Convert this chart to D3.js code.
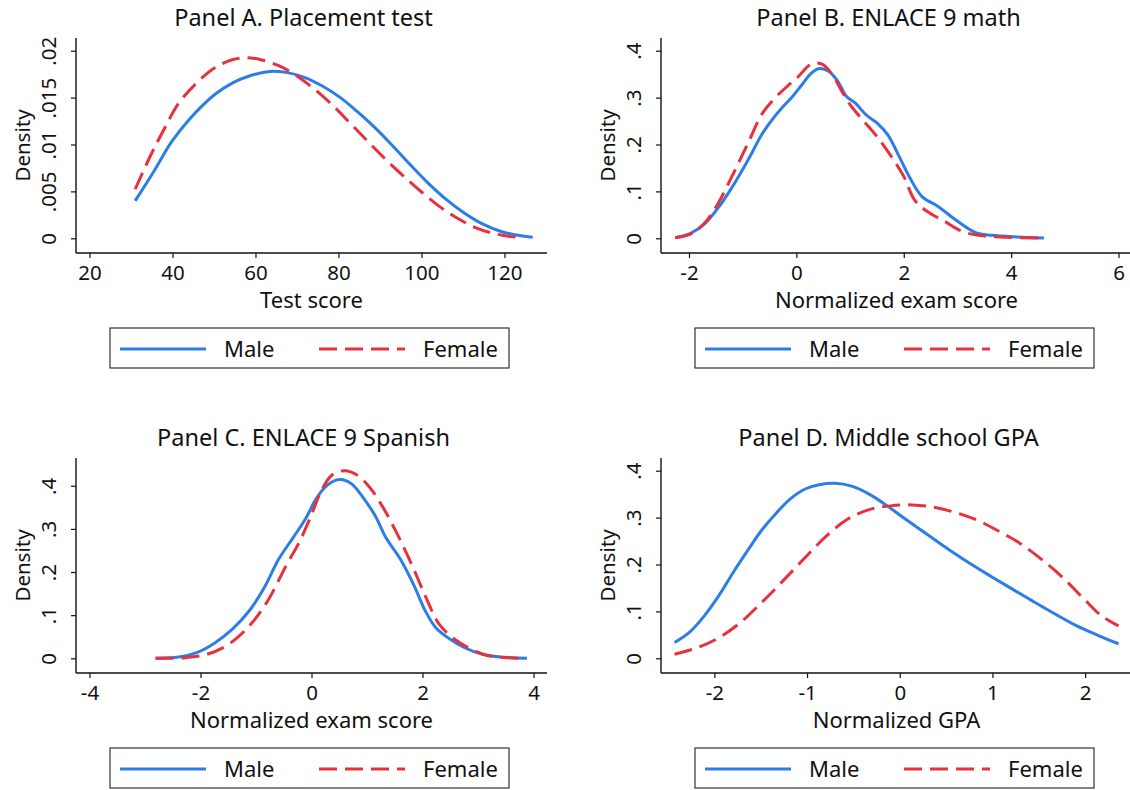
<!DOCTYPE html>
<html>
<head>
<meta charset="utf-8">
<script src="https://cdn.jsdelivr.net/npm/d3@7"></script>
<style>
  html, body { margin: 0; padding: 0; background: #fff; }
  text { font-family: "Noto Sans", "DejaVu Sans", sans-serif; fill: #111; }
</style>
</head>
<body>
<div id="chart"></div>
<script>
// Panel A: placement test score densities
const aScore = [31, 35.5, 39.8, 44.1, 50.1, 54.4, 58.7, 63.5, 67.3, 71.6, 76, 80.3, 84.5, 88.9, 93.2, 97.5, 101.8, 106.1, 110.4, 114.7, 119, 123.3, 126.8];
const aMale = [0.00399, 0.00712, 0.0103, 0.0127, 0.0153, 0.01655, 0.01733, 0.01779, 0.01769, 0.01719, 0.01626, 0.01505, 0.01352, 0.01174, 0.00979, 0.00776, 0.0058, 0.00409, 0.00267, 0.00153, 0.00075, 0.00032, 0.0001];
const aScoreF = [31, 34.6, 38.1, 41.5, 45.8, 50.1, 54.4, 57.9, 61.3, 65.6, 69.9, 74.2, 78.5, 82.8, 87.1, 91.5, 95.8, 100.1, 104.4, 108.7, 113, 117.3, 121.6, 124.6];
const aFemale = [0.00523, 0.00872, 0.01174, 0.01441, 0.01655, 0.01815, 0.01904, 0.01925, 0.01904, 0.0184, 0.01733, 0.01591, 0.01423, 0.01228, 0.01032, 0.00836, 0.00658, 0.00491, 0.00338, 0.00214, 0.00114, 0.00053, 0.00018, 0.00007];

// Panel B: ENLACE 9 math
const bScore = [-2.25, -1.97, -1.7, -1.44, -1.17, -0.9, -0.63, -0.43, -0.23, -0.067, 0.1, 0.27, 0.43, 0.6, 0.77, 0.93, 1.1, 1.3, 1.5, 1.7, 1.9, 2.1, 2.34, 2.64, 2.97, 3.34, 3.64, 4.11, 4.61];
const bMale = [0.0014, 0.0107, 0.032, 0.0676, 0.114, 0.167, 0.224, 0.256, 0.283, 0.303, 0.327, 0.351, 0.362, 0.356, 0.335, 0.303, 0.288, 0.263, 0.246, 0.221, 0.178, 0.132, 0.089, 0.068, 0.039, 0.012, 0.0064, 0.0028, 0.0007];
const bScoreF = [-2.26, -1.97, -1.7, -1.44, -1.17, -0.9, -0.63, -0.4, -0.17, 0.03, 0.23, 0.37, 0.5, 0.67, 0.83, 1, 1.23, 1.5, 1.77, 2, 2.2, 2.44, 2.77, 3.1, 3.44, 3.91, 4.51];
const bFemale = [0.0014, 0.0093, 0.0335, 0.078, 0.139, 0.203, 0.267, 0.299, 0.324, 0.344, 0.368, 0.374, 0.37, 0.349, 0.317, 0.285, 0.253, 0.217, 0.174, 0.132, 0.082, 0.057, 0.0356, 0.0142, 0.0057, 0.0021, 0.0007];

// Panel C: ENLACE 9 Spanish
const cScore = [-2.81, -2.39, -2.07, -1.75, -1.43, -1.11, -0.85, -0.59, -0.33, -0.11, 0.08, 0.24, 0.44, 0.57, 0.73, 0.95, 1.15, 1.34, 1.6, 1.85, 2.05, 2.24, 2.5, 2.75, 3.08, 3.4, 3.88];
const cMale = [0, 0.003, 0.013, 0.035, 0.067, 0.112, 0.164, 0.23, 0.28, 0.323, 0.369, 0.396, 0.413, 0.414, 0.404, 0.369, 0.33, 0.28, 0.23, 0.168, 0.11, 0.071, 0.044, 0.025, 0.0093, 0.003, 0];
const cScoreF = [-2.81, -2.27, -1.88, -1.49, -1.11, -0.79, -0.46, -0.21, -0.01, 0.18, 0.37, 0.6, 0.82, 1.05, 1.27, 1.53, 1.79, 2.05, 2.3, 2.56, 2.82, 3.14, 3.53, 3.88];
const cFemale = [0, 0.0015, 0.0093, 0.0325, 0.0766, 0.133, 0.214, 0.272, 0.33, 0.389, 0.425, 0.435, 0.425, 0.396, 0.354, 0.292, 0.222, 0.145, 0.079, 0.046, 0.025, 0.0077, 0.0015, 0];

// Panel D: middle school GPA
const dScore = [-2.43, -2.26, -2.11, -1.95, -1.8, -1.64, -1.49, -1.33, -1.18, -1.02, -0.87, -0.7, -0.52, -0.33, -0.135, 0.06, 0.29, 0.52, 0.75, 0.99, 1.22, 1.45, 1.68, 1.91, 2.15, 2.36];
const dMale = [0.0335, 0.057, 0.09, 0.134, 0.182, 0.23, 0.273, 0.31, 0.34, 0.361, 0.37, 0.373, 0.367, 0.35, 0.325, 0.297, 0.265, 0.233, 0.203, 0.174, 0.147, 0.12, 0.094, 0.069, 0.048, 0.031];
const dScoreF = [-2.43, -2.18, -1.95, -1.72, -1.49, -1.26, -1.02, -0.79, -0.56, -0.33, -0.1, 0.135, 0.37, 0.6, 0.83, 1.06, 1.29, 1.53, 1.76, 1.99, 2.18, 2.36];
const dFemale = [0.0085, 0.0228, 0.044, 0.076, 0.119, 0.165, 0.215, 0.261, 0.297, 0.317, 0.325, 0.327, 0.322, 0.311, 0.295, 0.272, 0.246, 0.211, 0.172, 0.126, 0.09, 0.069];

// axis ticks
const aXTicks = [20, 40, 60, 80, 100, 120];
const aYTicks = [0, 0.005, 0.01, 0.015, 0.02];
const aYLabels = ['0', '.005', '.01', '.015', '.02'];
const bXTicks = [-2, 0, 2, 4, 6];
const cXTicks = [-4, -2, 0, 2, 4];
const dXTicks = [-2, -1, 0, 1, 2];
const densTicks = [0, 0.1, 0.2, 0.3, 0.4];
const densLabels = ['0', '.1', '.2', '.3', '.4'];

const titles = ['Panel A. Placement test', 'Panel B. ENLACE 9 math', 'Panel C. ENLACE 9 Spanish', 'Panel D. Middle school GPA'];
const xTitles = ['Test score', 'Normalized exam score', 'Normalized exam score', 'Normalized GPA'];
const seriesNames = ['Male', 'Female'];

const maleColor = '#2c7ee6';
const femaleColor = '#e8303e';

const zip = (xs, ys) => xs.map((x, i) => ({ x, y: ys[i] }));

const panels = [
  { left: 76, top: 38, xDomain: [20, 127], yDomain: [0, 0.02], xTicks: aXTicks, yTicks: aYTicks, yLabels: aYLabels,
    male: zip(aScore, aMale), female: zip(aScoreF, aFemale) },
  { left: 661, top: 38, xDomain: [-2.27, 6], yDomain: [0, 0.4], xTicks: bXTicks, yTicks: densTicks, yLabels: densLabels,
    male: zip(bScore, bMale), female: zip(bScoreF, bFemale) },
  { left: 76, top: 458, xDomain: [-4, 4], yDomain: [0, 0.435], xTicks: cXTicks, yTicks: densTicks, yLabels: densLabels,
    male: zip(cScore, cMale), female: zip(cScoreF, cFemale) },
  { left: 661, top: 458, xDomain: [-2.43, 2.36], yDomain: [0, 0.4], xTicks: dXTicks, yTicks: densTicks, yLabels: densLabels,
    male: zip(dScore, dMale), female: zip(dScoreF, dFemale) },
];

const plotW = 471;
const plotH = 215;

const svg = d3.select('#chart')
  .append('svg')
  .attr('width', 1130)
  .attr('height', 790)
  .style('display', 'block');

svg.append('rect').attr('width', 1130).attr('height', 790).attr('fill', '#fff');

panels.forEach((p, i) => {
  const right = p.left + plotW;
  const bottom = p.top + plotH;
  const x = d3.scaleLinear().domain(p.xDomain).range([p.left + 13.5, right - 13.5]);
  const y = d3.scaleLinear().domain(p.yDomain).range([bottom - 14.7, p.top + 12.7]);
  const g = svg.append('g');
  const midX = p.left + plotW / 2;

  // title
  g.append('text')
    .attr('x', midX - 8)
    .attr('y', p.top - 12)
    .attr('text-anchor', 'middle')
    .style('font-size', '23.5px')
    .text(titles[i]);

  // x axis (plain hyphen for negatives, like the original)
  const xAxis = g.append('g')
    .attr('transform', `translate(0,${bottom})`)
    .call(d3.axisBottom(x).tickValues(p.xTicks).tickSize(5).tickPadding(7).tickFormat(d => String(d)));
  xAxis.select('.domain').attr('d', `M${p.left},0H${right}`);

  // y axis
  const yAxis = g.append('g')
    .attr('transform', `translate(${p.left},0)`)
    .call(d3.axisLeft(y).tickValues(p.yTicks).tickSize(5).tickFormat((d, k) => p.yLabels[k]));
  yAxis.select('.domain').attr('d', `M0,${p.top}V${bottom}`);
  yAxis.selectAll('.tick text')
    .attr('x', 0).attr('dy', 0)
    .attr('text-anchor', 'middle')
    .attr('transform', 'translate(-20,0) rotate(-90)');

  [xAxis, yAxis].forEach(ax => {
    ax.select('.domain').attr('stroke', '#111').attr('stroke-width', 1.4);
    ax.selectAll('.tick line').attr('stroke', '#111').attr('stroke-width', 1.2);
    ax.selectAll('.tick text').style('font-size', '20.5px').attr('fill', '#111')
      .style('font-family', '"Noto Sans", "DejaVu Sans", sans-serif');
  });

  // axis titles
  g.append('text')
    .attr('x', midX)
    .attr('y', bottom + 55)
    .attr('text-anchor', 'middle')
    .style('font-size', '22px')
    .text(xTitles[i]);

  g.append('text')
    .attr('transform', `translate(${p.left - 46},${p.top + plotH / 2}) rotate(-90)`)
    .attr('text-anchor', 'middle')
    .style('font-size', '20.5px')
    .text('Density');

  // density curves
  const line = d3.line()
    .x(d => x(d.x))
    .y(d => y(d.y))
    .curve(d3.curveCatmullRom.alpha(0.5));

  g.append('path')
    .datum(p.male)
    .attr('d', line)
    .attr('fill', 'none')
    .attr('stroke', maleColor)
    .attr('stroke-width', 3);

  g.append('path')
    .datum(p.female)
    .attr('d', line)
    .attr('fill', 'none')
    .attr('stroke', femaleColor)
    .attr('stroke-width', 3)
    .attr('stroke-dasharray', '18 8');

  // legend
  const legLeft = midX - 201.5;
  const legTop = bottom + 75;
  const leg = g.append('g').attr('transform', `translate(${legLeft},${legTop})`);
  leg.append('rect')
    .attr('width', 399).attr('height', 40)
    .attr('fill', '#fff')
    .attr('stroke', '#333')
    .attr('stroke-width', 1.2);
  const items = [
    { name: seriesNames[0], color: maleColor, dash: null, x0: 10 },
    { name: seriesNames[1], color: femaleColor, dash: '18 8', x0: 209 },
  ];
  items.forEach(it => {
    leg.append('line')
      .attr('x1', it.x0).attr('x2', it.x0 + 86)
      .attr('y1', 21).attr('y2', 21)
      .attr('stroke', it.color)
      .attr('stroke-width', 3)
      .attr('stroke-dasharray', it.dash);
    leg.append('text')
      .attr('x', it.x0 + 104)
      .attr('y', 28.5)
      .style('font-size', '22px')
      .text(it.name);
  });
});
</script>
</body>
</html>
